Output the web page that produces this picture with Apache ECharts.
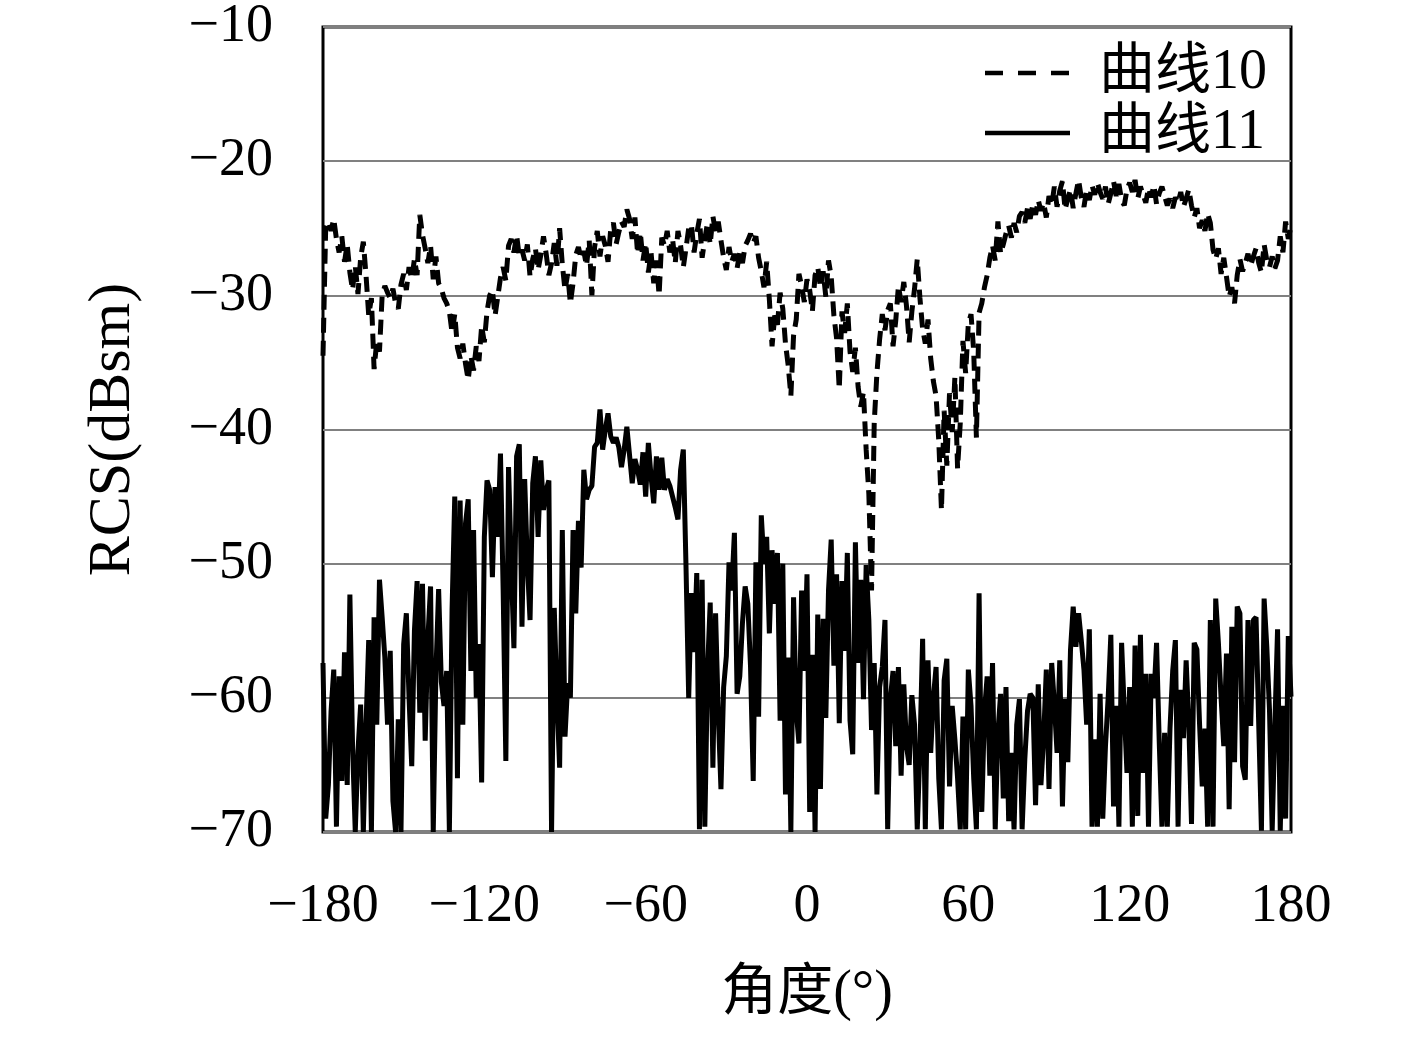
<!DOCTYPE html>
<html>
<head>
<meta charset="utf-8">
<script src="https://cdn.jsdelivr.net/npm/echarts@6/dist/echarts.min.js"></script>
<style>html,body{margin:0;padding:0;background:#fff;}#c{width:1417px;height:1037px;}</style>
</head>
<body>
<div id="c"></div>
<script>
// Angles: -180 .. 180 in 1-degree steps
const angleStart = -180;
const angleStep = 1;

const seriesNames = ['曲线10', '曲线11'];

// 曲线10 (dashed)
const curve10 = [
 -34.5,-25,-24.5,-25.2,-24.3,-25.8,-26.8,-25.6,-27.5,-26.2,
 -28.3,-29.6,-27.8,-29.9,-27.2,-26,-28.5,-31.5,-30.2,-35.5,
 -33.4,-34.2,-30,-29.3,-29.8,-30.2,-29.5,-30.6,-31,-29.2,
 -28.4,-29.6,-27.9,-28.8,-27.3,-28.5,-24,-25.5,-26.5,-27.6,
 -26.3,-28.8,-27.1,-29.1,-29.5,-30.2,-30.6,-31.2,-32.8,-31.4,
 -33.9,-34.7,-33.6,-35.1,-36.3,-34.5,-35.6,-33.8,-34.9,-32.3,
 -33.5,-31.2,-30,-29.6,-31.5,-30.1,-28.7,-27.9,-28.9,-26.3,
 -25.8,-26.8,-25.5,-27.1,-26.6,-27.4,-26.2,-28.6,-27.3,-26.5,
 -28.1,-27,-25.6,-26.9,-28.5,-27.6,-26.1,-27.8,-25,-27.7,
 -29.6,-28.4,-30.6,-29.1,-27,-26.4,-27.3,-26.7,-27.8,-25.9,
 -30,-26.4,-25.2,-27.1,-25.6,-26.3,-27.5,-25.1,-24.6,-26.2,
 -25.3,-24.5,-24.9,-23.6,-24.3,-25.8,-24.2,-26.9,-25.3,-27.4,
 -26.1,-28.3,-26.8,-29.1,-27.4,-30,-25.7,-26.3,-25.2,-26.8,
 -25.8,-27.6,-25.2,-26.3,-27.9,-26.5,-25,-24.7,-26.8,-25.4,
 -24.3,-27.2,-25.8,-24.6,-26.2,-24.1,-25.3,-24.5,-25.9,-27.2,
 -28.1,-26.4,-27.5,-26.9,-28,-26.8,-27.6,-26.3,-25.9,-25.4,
 -26.1,-25.6,-27.2,-28.2,-29.4,-27.5,-30.3,-33.8,-31.5,-32.2,
 -29.8,-31,-33.6,-35.2,-37.5,-33,-31.8,-28.4,-29.3,-30.5,
 -28.8,-29.6,-31.2,-28.5,-27.9,-29.4,-28.2,-30.1,-27.4,-28.6,
 -31.5,-33.2,-37,-31.2,-32.8,-30.6,-34.2,-35.7,-33.9,-36.8,
 -38.3,-37.2,-41.5,-44.8,-52,-39.5,-35.8,-33.3,-31.4,-32.6,
 -31.1,-30.6,-33.8,-31.9,-29.3,-30.5,-29,-30.8,-33.5,-31.2,
 -29.5,-27.3,-30.2,-32.5,-33.6,-31.8,-34.7,-36.4,-37.5,-40.8,
 -46,-38.6,-42.7,-37.3,-40.2,-36.1,-42.9,-39.5,-33.4,-35.8,
 -32.1,-31.4,-34.2,-40.6,-31.3,-30.6,-29.4,-28.5,-27.2,-26.3,
 -27.4,-24.5,-26.9,-26.2,-25.4,-24.8,-25.7,-24.6,-25.3,-24.1,
 -23.8,-24.6,-23.5,-24.3,-23.2,-24,-22.9,-23.7,-23.1,-24.2,
 -22.6,-23.3,-21.9,-23.4,-22.2,-21.5,-23.6,-22.8,-22.1,-23.5,
 -22.4,-21.4,-22.7,-23.4,-22.1,-22.9,-21.8,-22.5,-21.6,-22.3,
 -22.8,-21.9,-23.2,-22.4,-21.5,-22.6,-21.7,-22.9,-23.3,-22.1,
 -21.6,-22.3,-21.4,-22.8,-21.9,-22.5,-23.1,-22,-22.7,-21.8,
 -23.2,-22.4,-21.9,-22.6,-23.3,-22.8,-23.5,-22.7,-23.1,-22.3,
 -23.4,-22.8,-22.1,-23.3,-24.2,-23.5,-25,-24.4,-25.2,-23.9,
 -24.6,-26.6,-27.3,-26.5,-28.4,-27.2,-28.6,-30.1,-29.4,-30.6,
 -28.5,-27.3,-28.2,-27.6,-26.9,-27.8,-27.1,-26.5,-27.6,-28.3,
 -26.2,-27.4,-27.9,-27.1,-28,-27.4,-25.6,-26.8,-24.5,-25.8,
 -24.8
];

// 曲线11 (solid)
const curve11 = [
 -57.4,-69,-66.5,-61,-57.9,-69.6,-58.4,-66.2,-56.6,-66.5,
 -52.3,-63.7,-70,-64,-60.5,-70,-62,-55.7,-70,-54,
 -62,-51.2,-54,-57,-62,-56.5,-67.7,-70,-61.6,-70,
 -56,-53.7,-60,-65.1,-55,-51.3,-61.1,-51.5,-63.2,-55.6,
 -51.7,-70,-58,-51.9,-58.8,-60.6,-58,-70,-53.4,-45,
 -66,-45.3,-62,-47,-45.2,-58,-47.5,-60,-56,-66.3,
 -48,-43.8,-44.5,-51,-44.3,-48,-41.8,-52,-64.7,-42.8,
 -50,-56.3,-42,-41.1,-54.7,-43.7,-50,-54.2,-44,-42,
 -48,-42.3,-46,-44.5,-43.8,-70,-53.3,-60,-65.2,-47.5,
 -62.9,-58.9,-60,-47.5,-53.7,-46.8,-50.3,-43,-45.2,-44.5,
 -44.2,-41.3,-41,-38.5,-41.5,-40,-38.8,-40.5,-41,-40.6,
 -41.3,-42.8,-41.5,-39.8,-41.9,-44,-42.2,-43,-44.1,-41.7,
 -45,-41,-43.5,-45.5,-42,-44.5,-42.1,-44.5,-43.7,-44.2,
 -45,-45.8,-46.7,-43,-41.5,-50.2,-60,-52.2,-56.6,-50.7,
 -69.8,-51.2,-69.6,-58,-52.9,-65.2,-53.7,-61.2,-66.8,-59.2,
 -56.9,-49.9,-52,-47.7,-59.7,-58.4,-54.4,-51.7,-53,-57.7,
 -66.2,-49.9,-61.4,-46.4,-50,-48,-55.2,-49,-53,-49.2,
 -61.7,-50,-67.2,-57,-70,-52.5,-61,-63.4,-52,-58,
 -50.8,-68.5,-56.8,-70,-53.8,-66.8,-54.1,-61.5,-52,-48.2,
 -57.6,-50.8,-61.9,-51.3,-56.5,-49.2,-61.7,-64.2,-48.4,-57.4,
 -51.2,-60.1,-50.1,-54.2,-62.4,-57.4,-67.2,-59.2,-57.7,-54.2,
 -69.8,-60.1,-58,-63.6,-57.7,-65.8,-59,-63.6,-65,-59.8,
 -62,-69.8,-63.8,-55.6,-69.8,-57.2,-64.1,-60,-57.7,-66,
 -69.8,-58.7,-57.1,-66.6,-60.6,-63.1,-66,-69.8,-61.4,-69.8,
 -57.9,-60.6,-66,-69.8,-52.2,-68.5,-61,-58.4,-65.8,-57.4,
 -69.8,-62.6,-59.7,-67.5,-59.2,-69.2,-64.1,-69.8,-62,-60.1,
 -69.8,-64.6,-61,-59.7,-60,-68,-59,-66.5,-63,-57.9,
 -66.8,-57.4,-60.5,-64.1,-57.2,-68.1,-60.1,-64.8,-56.4,-53.2,
 -56.2,-53.7,-55.7,-57.9,-62,-54.9,-69.6,-63.1,-69.6,-59.7,
 -69,-63.6,-60,-55.3,-68.1,-60.6,-69.6,-55.9,-61,-65.6,
 -59.2,-69.6,-56.1,-68.8,-55.3,-65.6,-58.2,-69.6,-58.2,-60,
 -55.9,-63.3,-69.6,-62.6,-69.6,-62.3,-58,-55.7,-69.6,-59.4,
 -63,-57.2,-62,-69.4,-55.9,-56.4,-62,-66.6,-62.3,-69.6,
 -54.2,-69.6,-52.6,-55.9,-60,-63.6,-56.7,-68.3,-54.7,-64.8,
 -53.2,-53.7,-65.1,-66.1,-54.2,-62.1,-54.2,-54,-62,-69.9,
 -52.6,-56.2,-60.9,-69.9,-62,-54.9,-69.9,-60.6,-69,-55.4,
 -59.9
];

const xTickValues = [-180, -120, -60, 0, 60, 120, 180];
const xTickLabels = ['−180', '−120', '−60', '0', '60', '120', '180'];
const yTickValues = [-70, -60, -50, -40, -30, -20, -10];
const yTickLabels = ['−70', '−60', '−50', '−40', '−30', '−20', '−10'];

const xName = '角度(°)';
const yName = 'RCS(dBsm)';

function pairs(vals) {
  return vals.map((v, i) => [angleStart + i * angleStep, v]);
}
function lookup(values, labels) {
  return function (v) {
    const i = values.indexOf(Math.round(v));
    return i >= 0 ? labels[i] : '';
  };
}

const serif = "'Liberation Serif', 'Noto Sans CJK SC', serif";

const chart = echarts.init(document.getElementById('c'), null, { renderer: 'canvas' });
chart.setOption({
  animation: false,
  backgroundColor: '#fff',
  grid: {
    left: 323, right: 126, top: 27, bottom: 205,
    show: true, borderColor: '#000', borderWidth: 3, backgroundColor: 'transparent'
  },
  legend: {
    orient: 'vertical',
    right: 145, top: 40,
    itemWidth: 85, itemHeight: 14, itemGap: 4,
    itemStyle: { opacity: 0 },
    textStyle: { fontFamily: serif, fontSize: 56, color: '#000', padding: [0, 0, 0, 24] },
    data: [
      { name: seriesNames[0], lineStyle: { width: 4.5, type: [18, 15], color: '#000' } },
      { name: seriesNames[1], lineStyle: { width: 4.5, type: 'solid', color: '#000' } }
    ]
  },
  xAxis: {
    type: 'value', min: -180, max: 180, interval: 60,
    name: xName, nameLocation: 'middle', nameGap: 134,
    nameTextStyle: { fontFamily: serif, fontSize: 56, color: '#000' },
    axisLine: { show: false },
    axisTick: { show: false },
    splitLine: { show: false },
    axisLabel: { margin: 48, fontFamily: serif, fontSize: 54, color: '#000', formatter: lookup(xTickValues, xTickLabels) }
  },
  yAxis: {
    type: 'value', min: -70, max: -10, interval: 10,
    name: yName, nameLocation: 'middle', nameGap: 180, nameRotate: 90,
    nameTextStyle: { fontFamily: serif, fontSize: 60, color: '#000' },
    axisLine: { show: false },
    axisTick: { show: false },
    splitLine: { show: true, lineStyle: { color: '#808080', width: 2 } },
    axisLabel: { margin: 50, fontFamily: serif, fontSize: 54, color: '#000', formatter: lookup(yTickValues, yTickLabels) }
  },
  series: [
    {
      name: seriesNames[0], type: 'line', data: pairs(curve10), symbol: 'none',
      lineStyle: { color: '#000', width: 5, type: [15, 8] }, itemStyle: { color: '#000' }, z: 3
    },
    {
      name: seriesNames[1], type: 'line', data: pairs(curve11), symbol: 'none',
      lineStyle: { color: '#000', width: 5, type: 'solid' }, itemStyle: { color: '#000' }, z: 3
    }
  ]
});
</script>
</body>
</html>
